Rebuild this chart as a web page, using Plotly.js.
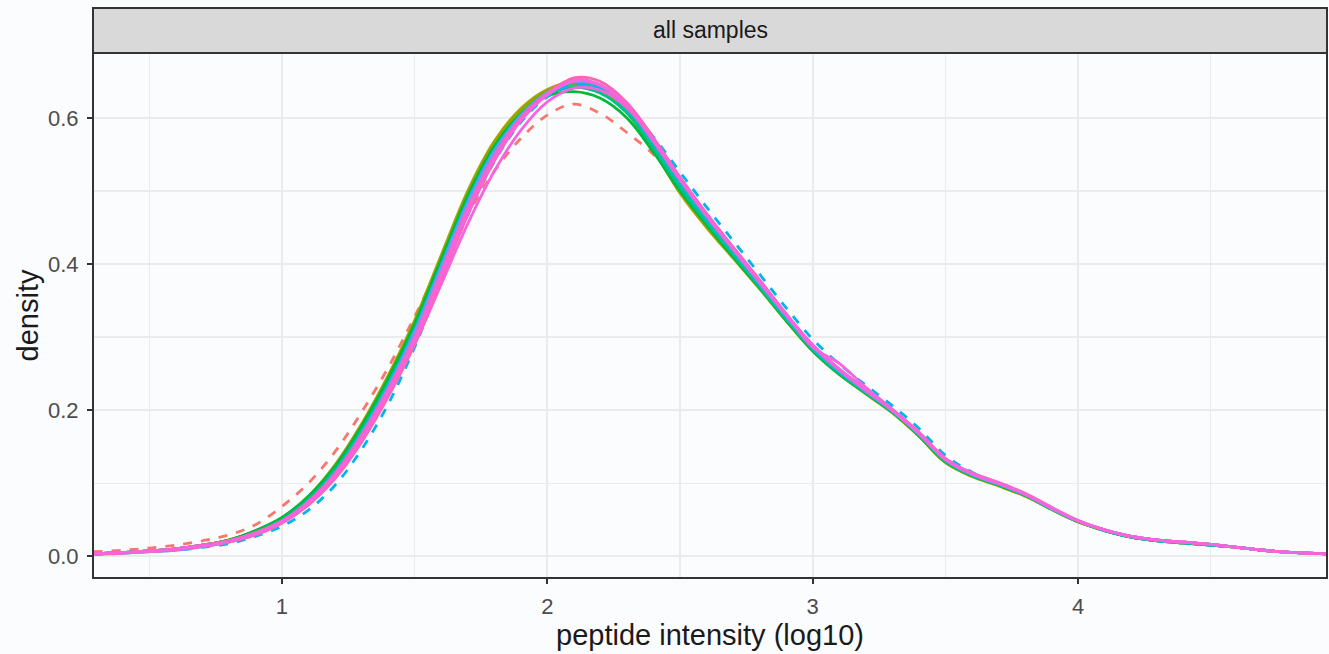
<!DOCTYPE html>
<html>
<head>
<meta charset="utf-8">
<script src="https://cdn.plot.ly/plotly-3.0.1.min.js"></script>
<style>
html,body{margin:0;padding:0;background:#fbfcfe;}
#chart{width:1329px;height:654px;}
</style>
</head>
<body>
<div id="chart"></div>
<script>
// x grid (peptide intensity, log10)
const intensity = [0.29,0.4,0.5,0.6,0.7,0.8,0.9,1.0,1.1,1.2,1.3,1.4,1.5,1.6,1.7,1.8,1.9,2.0,2.1,2.2,2.3,2.4,2.5,2.6,2.7,2.8,2.9,3.0,3.1,3.2,3.3,3.4,3.5,3.6,3.7,3.8,3.9,4.0,4.1,4.2,4.3,4.4,4.5,4.6,4.7,4.8,4.94];

const sampleNames = ["S01","S02","S03","S04","S05","S06","S07","S08","S09","S10","S11","S12","S13","S14"];
const sampleColors = ["#F8766D","#DE8C00","#B79F00","#7CAE00","#00BA38","#00C08B","#00BFC4","#00B4F0","#619CFF","#C77CFF","#F564E3","#FF64B0","#FF64B0","#F564E3"];
const sampleDash = ["dash","solid","solid","solid","solid","solid","solid","dash","solid","solid","solid","solid","solid","solid"];

const S01 = [0.006,0.008,0.011,0.015,0.021,0.029,0.043,0.068,0.100,0.143,0.197,0.258,0.328,0.402,0.468,0.527,0.572,0.604,0.619,0.606,0.580,0.550,0.508,0.460,0.416,0.371,0.326,0.284,0.251,0.224,0.198,0.166,0.131,0.111,0.098,0.083,0.065,0.047,0.035,0.027,0.022,0.019,0.016,0.012,0.008,0.005,0.003];
const S02 = [0.003,0.005,0.007,0.010,0.015,0.022,0.034,0.051,0.080,0.121,0.176,0.241,0.316,0.404,0.491,0.560,0.606,0.636,0.650,0.642,0.612,0.560,0.500,0.454,0.410,0.368,0.324,0.282,0.250,0.223,0.197,0.165,0.129,0.110,0.097,0.083,0.065,0.047,0.035,0.026,0.021,0.018,0.015,0.012,0.008,0.005,0.003];
const S03 = [0.003,0.005,0.007,0.010,0.015,0.022,0.034,0.052,0.082,0.125,0.181,0.247,0.323,0.412,0.500,0.568,0.613,0.639,0.649,0.639,0.609,0.556,0.497,0.450,0.408,0.366,0.322,0.281,0.249,0.222,0.196,0.164,0.128,0.109,0.096,0.082,0.064,0.047,0.035,0.026,0.021,0.018,0.015,0.012,0.008,0.005,0.003];
const S04 = [0.003,0.005,0.007,0.010,0.015,0.022,0.034,0.052,0.081,0.123,0.179,0.245,0.320,0.409,0.497,0.565,0.610,0.637,0.645,0.636,0.607,0.556,0.500,0.452,0.409,0.367,0.323,0.282,0.250,0.223,0.197,0.165,0.129,0.110,0.097,0.083,0.064,0.047,0.035,0.026,0.021,0.018,0.015,0.012,0.008,0.005,0.003];
const S05 = [0.003,0.005,0.007,0.010,0.015,0.022,0.035,0.053,0.082,0.123,0.178,0.243,0.318,0.406,0.493,0.561,0.605,0.630,0.636,0.627,0.600,0.553,0.500,0.454,0.410,0.367,0.323,0.281,0.249,0.223,0.197,0.165,0.129,0.110,0.097,0.083,0.064,0.047,0.035,0.026,0.021,0.018,0.015,0.012,0.008,0.005,0.003];
const S06 = [0.003,0.005,0.007,0.010,0.015,0.021,0.033,0.050,0.078,0.118,0.172,0.236,0.311,0.399,0.487,0.556,0.603,0.632,0.642,0.634,0.607,0.559,0.505,0.457,0.413,0.369,0.325,0.283,0.251,0.224,0.198,0.166,0.130,0.111,0.098,0.084,0.065,0.048,0.035,0.026,0.021,0.018,0.015,0.012,0.008,0.005,0.003];
const S07 = [0.003,0.004,0.006,0.009,0.014,0.020,0.031,0.048,0.076,0.116,0.170,0.234,0.309,0.398,0.486,0.556,0.604,0.635,0.648,0.640,0.612,0.563,0.510,0.461,0.416,0.371,0.326,0.284,0.252,0.225,0.198,0.167,0.131,0.111,0.098,0.084,0.065,0.048,0.035,0.026,0.021,0.018,0.015,0.012,0.008,0.005,0.003];
const S08 = [0.002,0.004,0.006,0.008,0.012,0.017,0.027,0.041,0.063,0.097,0.146,0.208,0.286,0.378,0.467,0.540,0.594,0.629,0.645,0.641,0.616,0.574,0.526,0.478,0.432,0.386,0.340,0.297,0.263,0.234,0.206,0.175,0.138,0.115,0.100,0.085,0.066,0.048,0.036,0.027,0.022,0.019,0.016,0.012,0.008,0.005,0.003];
const S09 = [0.002,0.004,0.006,0.008,0.013,0.019,0.030,0.046,0.074,0.113,0.167,0.231,0.307,0.396,0.484,0.554,0.603,0.635,0.650,0.644,0.616,0.568,0.516,0.466,0.420,0.374,0.329,0.287,0.254,0.226,0.199,0.168,0.132,0.112,0.099,0.084,0.065,0.048,0.036,0.027,0.022,0.019,0.016,0.012,0.008,0.005,0.003];
const S10 = [0.003,0.004,0.006,0.009,0.014,0.020,0.031,0.047,0.074,0.112,0.164,0.227,0.300,0.388,0.476,0.547,0.598,0.632,0.650,0.645,0.617,0.570,0.518,0.468,0.421,0.376,0.331,0.289,0.256,0.228,0.200,0.168,0.132,0.112,0.099,0.085,0.066,0.048,0.036,0.027,0.022,0.019,0.016,0.012,0.008,0.005,0.003];
const S11 = [0.003,0.005,0.007,0.010,0.015,0.021,0.032,0.048,0.074,0.110,0.160,0.220,0.290,0.372,0.455,0.527,0.583,0.622,0.641,0.638,0.614,0.569,0.518,0.469,0.423,0.378,0.331,0.286,0.264,0.231,0.201,0.169,0.133,0.113,0.100,0.085,0.066,0.048,0.036,0.027,0.022,0.019,0.016,0.012,0.008,0.005,0.003];
const S12 = [0.003,0.005,0.007,0.010,0.015,0.021,0.032,0.048,0.075,0.113,0.165,0.228,0.300,0.388,0.476,0.548,0.600,0.634,0.653,0.645,0.616,0.568,0.515,0.466,0.420,0.375,0.330,0.288,0.255,0.227,0.200,0.168,0.132,0.113,0.100,0.085,0.066,0.048,0.036,0.027,0.022,0.019,0.016,0.012,0.008,0.005,0.003];
const S13 = [0.003,0.004,0.006,0.009,0.013,0.019,0.029,0.045,0.070,0.106,0.156,0.218,0.290,0.378,0.467,0.541,0.596,0.632,0.655,0.650,0.621,0.573,0.519,0.469,0.423,0.378,0.332,0.289,0.256,0.228,0.201,0.170,0.134,0.114,0.101,0.086,0.067,0.049,0.036,0.027,0.022,0.019,0.016,0.012,0.008,0.005,0.003];
const S14 = [0.003,0.005,0.007,0.010,0.014,0.020,0.031,0.047,0.073,0.110,0.161,0.224,0.296,0.384,0.472,0.544,0.597,0.632,0.651,0.645,0.618,0.570,0.517,0.467,0.421,0.376,0.331,0.289,0.256,0.228,0.200,0.168,0.133,0.113,0.100,0.085,0.066,0.048,0.036,0.027,0.022,0.019,0.016,0.012,0.008,0.005,0.003];

const densities = [S01,S02,S03,S04,S05,S06,S07,S08,S09,S10,S11,S12,S13,S14];

const xTickVals = [1,2,3,4];
const xTickText = ["1","2","3","4"];
const yTickVals = [0,0.2,0.4,0.6];
const yTickText = ["0.0","0.2","0.4","0.6"];
const stripLabel = "all samples";
const xTitle = "peptide intensity (log10)";
const yTitle = "density";

const traces = densities.map((d, i) => ({
  type: "scatter",
  mode: "lines",
  name: sampleNames[i],
  x: intensity,
  y: d,
  line: {color: sampleColors[i], width: 2.8, dash: sampleDash[i], shape: "spline", smoothing: 1},
  hoverinfo: "skip"
}));

const font = "Liberation Sans, Arial, sans-serif";
const layout = {
  width: 1329, height: 654,
  margin: {l: 93, r: 2, t: 53, b: 76},
  paper_bgcolor: "#fbfcfe",
  plot_bgcolor: "#fbfcfe",
  showlegend: false,
  font: {family: font, color: "#4d4d4d"},
  xaxis: {
    range: [0.288, 4.938],
    tickvals: xTickVals, ticktext: xTickText,
    ticks: "outside", ticklen: 5, tickwidth: 1.8, tickcolor: "#333333",
    tickfont: {size: 22, color: "#4d4d4d", family: font},
    ticklabelstandoff: 4,
    showgrid: true, gridcolor: "#ebebeb", gridwidth: 2.2,
    minor: {tickvals: [0.5,1.5,2.5,3.5,4.5], showgrid: true, gridcolor: "#ebebeb", gridwidth: 1.1, ticks: ""},
    zeroline: false, showline: false,
    title: {text: xTitle, font: {size: 29, color: "#1a1a1a", family: font}, standoff: 4}
  },
  yaxis: {
    range: [-0.030, 0.689],
    tickvals: yTickVals, ticktext: yTickText,
    ticks: "outside", ticklen: 5, tickwidth: 1.8, tickcolor: "#333333",
    tickfont: {size: 22, color: "#4d4d4d", family: font},
    ticklabelstandoff: 4,
    showgrid: true, gridcolor: "#ebebeb", gridwidth: 2.2,
    minor: {tickvals: [0.1,0.3,0.5], showgrid: true, gridcolor: "#ebebeb", gridwidth: 1.1, ticks: ""},
    zeroline: false, showline: false,
    title: {text: yTitle, font: {size: 29, color: "#1a1a1a", family: font}, standoff: 0}
  },
  shapes: [
    {type: "rect", xref: "paper", yref: "paper", x0: 0, x1: 1, y0: 0, y1: 1,
     line: {color: "#333333", width: 2}, fillcolor: "rgba(0,0,0,0)", layer: "above"},
    {type: "rect", xref: "paper", yref: "paper", x0: 0, x1: 1, y0: 1, y1: 1 + 45/525,
     line: {color: "#333333", width: 2}, fillcolor: "#d9d9d9", layer: "above"}
  ],
  annotations: [
    {text: stripLabel, xref: "paper", yref: "paper", x: 0.5, y: 1 + 22.5/525,
     xanchor: "center", yanchor: "middle", showarrow: false,
     font: {size: 23, color: "#1a1a1a", family: font}}
  ]
};

Plotly.newPlot("chart", traces, layout, {displayModeBar: false, staticPlot: true});
</script>
</body>
</html>
